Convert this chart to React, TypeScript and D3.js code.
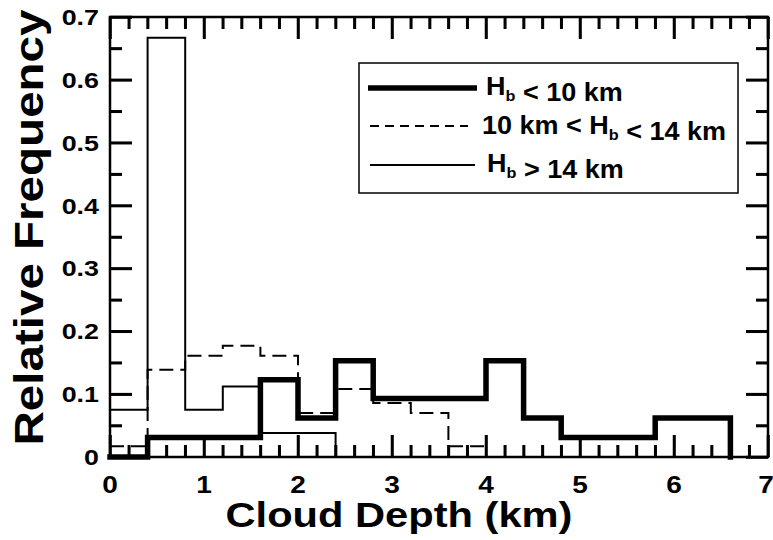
import React, { useEffect, useRef } from "react";
import * as d3 from "d3";

// Step histograms of cloud depth, grouped by cloud-base height H_b
const edgesLow = [0, 0.4, 1.6, 2.0, 2.4, 2.8, 4.0, 4.4, 4.8, 5.8, 6.6];
const freqLow = [0, 0.031, 0.123, 0.062, 0.153, 0.093, 0.153, 0.062, 0.031, 0.062];

const edgesMid = [0, 0.4, 0.8, 1.2, 1.6, 2.0, 2.4, 2.8, 3.2, 3.6, 4.0];
const freqMid = [0.017, 0.139, 0.161, 0.177, 0.161, 0.07, 0.108, 0.086, 0.07, 0.017];

const edgesHigh = [0, 0.4, 0.8, 1.2, 1.6, 2.0, 2.4];
const freqHigh = [0.075, 0.667, 0.075, 0.112, 0.038, 0.038];

const xTickValues = [0, 1, 2, 3, 4, 5, 6, 7];
const yTickValues = [0, 0.1, 0.2, 0.3, 0.4, 0.5, 0.6, 0.7];

// tick steps: every 0.2 km along x, every 0.05 along y
const xTickSteps = d3.range(0, 36);
const yTickSteps = d3.range(0, 15);

const FONT = "'Liberation Sans', Arial, Helvetica, sans-serif";

const W = 773;
const H = 540;
const plotLeft = 110;
const plotRight = 768;
const plotTop = 17;
const plotBottom = 457;
const MAJOR = 22;
const MINOR = 12;

function stepPath(
  xs: d3.ScaleLinear<number, number>,
  ys: d3.ScaleLinear<number, number>,
  edges: number[],
  vals: number[]
): string {
  const pts: [number, number][] = edges.slice(0, -1).map((e, i) => [e, vals[i]]);
  const last = edges[edges.length - 1];
  pts.push([last, vals[vals.length - 1]]);
  pts.push([last, 0]);
  const line = d3
    .line<[number, number]>()
    .x((d) => xs(d[0]))
    .y((d) => ys(d[1]))
    .curve(d3.curveStepAfter);
  return line(pts) || "";
}

function SText({
  tx,
  ty,
  sx = 1.2,
  size,
  anchor = "start",
  rotate = 0,
  children,
}: {
  tx: number;
  ty: number;
  sx?: number;
  size: number;
  anchor?: string;
  rotate?: number;
  children: React.ReactNode;
}) {
  return (
    <g transform={`translate(${tx},${ty}) rotate(${rotate}) scale(${sx},1)`}>
      <text
        x={0}
        y={0}
        fontFamily={FONT}
        fontWeight="bold"
        fontSize={size}
        textAnchor={anchor}
        fill="#000"
      >
        {children}
      </text>
    </g>
  );
}

function Hb({ size }: { size: number }) {
  return (
    <>
      <tspan>H</tspan>
      <tspan fontSize={size * 0.6} dy={6}>
        b
      </tspan>
      <tspan dy={-6}></tspan>
    </>
  );
}

export default function App() {
  const xs = d3.scaleLinear().domain([0, 7]).range([plotLeft, plotRight]);
  const ys = d3.scaleLinear().domain([0, 0.7]).range([plotBottom, plotTop]);
  const legSize = 25;
  const tickRef = useRef<SVGGElement | null>(null);

  // Inward ticks on all four sides, drawn with d3 axes
  useEffect(() => {
    if (!tickRef.current) return;
    const g = d3.select(tickRef.current);
    g.selectAll("*").remove();
    const xMajor = xTickSteps.filter((k) => k % 5 === 0).map((k) => k * 0.2);
    const xMinor = xTickSteps.filter((k) => k % 5 !== 0).map((k) => k * 0.2);
    const yMajor = yTickSteps.filter((k) => k % 2 === 0).map((k) => k * 0.05);
    const yMinor = yTickSteps.filter((k) => k % 2 !== 0).map((k) => k * 0.05);
    const sets: [number[], number][] = [
      [xMajor, MAJOR],
      [xMinor, MINOR],
    ];
    sets.forEach(([vals, len]) => {
      g.append("g")
        .attr("transform", `translate(0,${plotBottom})`)
        .call(d3.axisBottom(xs).tickValues(vals).tickSize(-len).tickSizeOuter(0).tickFormat(() => ""));
      g.append("g")
        .attr("transform", `translate(0,${plotTop})`)
        .call(d3.axisTop(xs).tickValues(vals).tickSize(-len).tickSizeOuter(0).tickFormat(() => ""));
    });
    const ysets: [number[], number][] = [
      [yMajor, MAJOR],
      [yMinor, MINOR],
    ];
    ysets.forEach(([vals, len]) => {
      g.append("g")
        .attr("transform", `translate(${plotLeft},0)`)
        .call(d3.axisLeft(ys).tickValues(vals).tickSize(-len).tickSizeOuter(0).tickFormat(() => ""));
      g.append("g")
        .attr("transform", `translate(${plotRight},0)`)
        .call(d3.axisRight(ys).tickValues(vals).tickSize(-len).tickSizeOuter(0).tickFormat(() => ""));
    });
    g.selectAll(".domain").remove();
    g.selectAll(".tick line").attr("stroke", "#000").attr("stroke-width", 2.5);
  }, []);

  return (
    <svg width={W} height={H} style={{ position: "absolute", left: 0, top: 0 }}>
      {/* histograms */}
      <path d={stepPath(xs, ys, edgesHigh, freqHigh)} fill="none" stroke="#000" strokeWidth={2} />
      <path
        d={stepPath(xs, ys, edgesMid, freqMid)}
        fill="none"
        stroke="#000"
        strokeWidth={2}
        strokeDasharray="14,7"
      />
      <path
        d={stepPath(xs, ys, edgesLow, freqLow)}
        fill="none"
        stroke="#000"
        strokeWidth={5.5}
        strokeLinejoin="miter"
        strokeLinecap="square"
      />

      {/* ticks, drawn as plain rectangles as well */}
      {xTickSteps.map((k) => (
        <rect
          key={"xb" + k}
          x={xs(k * 0.2) - 1.25}
          y={plotBottom - (k % 5 === 0 ? MAJOR : MINOR)}
          width={2.5}
          height={k % 5 === 0 ? MAJOR : MINOR}
          fill="#000"
        />
      ))}
      {xTickSteps.map((k) => (
        <rect
          key={"xt" + k}
          x={xs(k * 0.2) - 1.25}
          y={plotTop}
          width={2.5}
          height={k % 5 === 0 ? MAJOR : MINOR}
          fill="#000"
        />
      ))}
      {yTickSteps.map((k) => (
        <rect
          key={"yl" + k}
          x={plotLeft}
          y={ys(k * 0.05) - 1.25}
          width={k % 2 === 0 ? MAJOR : MINOR}
          height={2.5}
          fill="#000"
        />
      ))}
      {yTickSteps.map((k) => (
        <rect
          key={"yr" + k}
          x={plotRight - (k % 2 === 0 ? MAJOR : MINOR)}
          y={ys(k * 0.05) - 1.25}
          width={k % 2 === 0 ? MAJOR : MINOR}
          height={2.5}
          fill="#000"
        />
      ))}
      <g ref={tickRef} />

      {/* frame */}
      <rect
        x={plotLeft}
        y={plotTop}
        width={plotRight - plotLeft}
        height={plotBottom - plotTop}
        fill="none"
        stroke="#000"
        strokeWidth={2.5}
      />

      {/* tick labels */}
      {xTickValues.map((v) => (
        <SText
          key={"xlab" + v}
          tx={v === 7 ? xs(v) - 2 : xs(v)}
          ty={493}
          size={23}
          anchor="middle"
          sx={1.22}
        >
          {String(v)}
        </SText>
      ))}
      {yTickValues.map((v) => (
        <SText key={"ylab" + v} tx={99} ty={ys(v) + 8} size={22} anchor="end" sx={1.22}>
          {v === 0 ? "0" : v.toFixed(1)}
        </SText>
      ))}

      {/* axis titles */}
      <SText tx={399} ty={527} size={35} anchor="middle" sx={1.19}>
        Cloud Depth (km)
      </SText>
      <SText tx={43} ty={227.5} size={41} anchor="middle" rotate={-90} sx={1.16}>
        Relative Frequency
      </SText>

      {/* legend */}
      <rect x={359} y={63} width={379} height={130} fill="#fff" stroke="#000" strokeWidth={1.5} />
      <line x1={368} x2={477} y1={88} y2={88} stroke="#000" strokeWidth={5.5} />
      <line x1={370} x2={468} y1={126} y2={126} stroke="#000" strokeWidth={2} strokeDasharray="9,6" />
      <line x1={370} x2={475} y1={165} y2={165} stroke="#000" strokeWidth={2} />
      <SText tx={486} ty={95} size={legSize} sx={1.08}>
        <Hb size={legSize} />
        {" < 10 km"}
      </SText>
      <SText tx={482} ty={134} size={legSize} sx={1.08}>
        {"10 km < "}
        <Hb size={legSize} />
        {" < 14 km"}
      </SText>
      <SText tx={487} ty={172} size={legSize} sx={1.08}>
        <Hb size={legSize} />
        {" > 14 km"}
      </SText>
    </svg>
  );
}
